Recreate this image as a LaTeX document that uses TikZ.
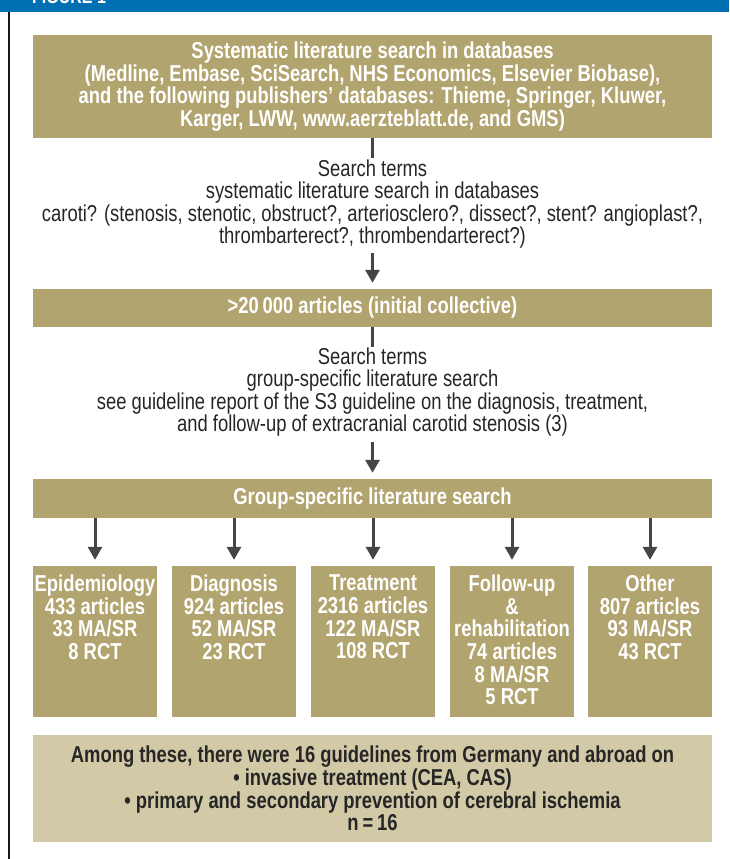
\documentclass[tikz,border=0pt]{standalone}
\usepackage{fontspec}
\setmainfont{Liberation Sans}[FakeStretch=0.80]
\usetikzlibrary{arrows.meta}
\definecolor{boxc}{HTML}{B2A46E}
\definecolor{lightc}{HTML}{D2C9A7}
\definecolor{bluec}{HTML}{0070B2}
\definecolor{arrc}{HTML}{454545}
\definecolor{txtc}{HTML}{262626}
\newcommand{\dfont}{\fontsize{23}{22.6}\selectfont}
\tikzset{
  mainbox/.style={fill=boxc, draw=none, minimum width=679pt, inner sep=0pt, text=white, font=\dfont\bfseries, align=center},
  catbox/.style={fill=boxc, draw=none, minimum width=124pt, minimum height=151pt, inner sep=0pt},
  cattext/.style={text=white, font=\dfont\bfseries, align=center, inner sep=0pt, anchor=north},
  plaintext/.style={text=txtc, font=\dfont, align=center, inner sep=0pt},
  flowarrow/.style={draw=arrc, line width=3pt, -{Triangle[length=13pt,width=14pt]}, shorten >=6pt},
  stubline/.style={draw=arrc, line width=3pt},
  notebox/.style={fill=lightc, draw=none, minimum width=679pt, minimum height=107pt, inner sep=0pt, text=txtc, font=\dfont\bfseries, align=center},
}
\begin{document}
\begin{tikzpicture}[x=1pt,y=-1pt]
\useasboundingbox (0,0) rectangle (729,859);
\clip (0,0) rectangle (729,859);
\fill[bluec] (0,0) rectangle (729,12);
\node[anchor=base west, text=white, font=\fontsize{20}{24}\selectfont\bfseries, inner sep=0pt] (title) at (32,4) {FIGURE 1};
\draw[line width=2.5pt, draw=black!90] (9,12) -- (9,859);

\node[mainbox, minimum height=103pt] (b1) at (372.5,86.5) {Systematic literature search in databases\\(Medline, Embase, SciSearch, NHS Economics, Elsevier Biobase),\\and the following publishers’ databases: Thieme, Springer, Kluwer,\\Karger, LWW, www.aerzteblatt.de, and GMS)};
\coordinate (s1) at (372.5,158);
\draw[stubline] (b1.south) -- (s1);
\node[plaintext] (t1) at (372.5,204) {Search terms\\systematic literature search in databases\\caroti? (stenosis, stenotic, obstruct?, arteriosclero?, dissect?, stent? angioplast?,\\thrombarterect?, thrombendarterect?)};
\coordinate (a1) at (372.5,253);
\node[mainbox, minimum height=38pt] (b2) at (372.5,308) {>20\,000 articles (initial collective)};
\draw[flowarrow] (a1) -- (b2.north);

\coordinate (s2) at (372.5,347);
\draw[stubline] (b2.south) -- (s2);
\node[plaintext] (t2) at (372.5,392) {Search terms\\group-specific literature search\\see guideline report of the S3 guideline on the diagnosis, treatment,\\and follow-up of extracranial carotid stenosis (3)};
\coordinate (a2) at (372.5,442);
\node[mainbox, minimum height=39pt] (b3) at (372.5,498.5) {Group-specific literature search};
\draw[flowarrow] (a2) -- (b3.north);

\node[catbox] (c1) at (95,641.5) {};
\node[catbox] (c2) at (234,641.5) {};
\node[catbox] (c3) at (373,641.5) {};
\node[catbox] (c4) at (512,641.5) {};
\node[catbox] (c5) at (650,641.5) {};
\foreach \c in {c1,c2,c3,c4,c5} {
  \draw[flowarrow] (b3.south -| \c) -- (\c.north);
}
\node[cattext] (c1t) at ([yshift=-9pt]c1.north) {Epidemiology\\433 articles\\33 MA/SR\\8 RCT};
\node[cattext] (c2t) at ([yshift=-9pt]c2.north) {Diagnosis\\924 articles\\52 MA/SR\\23 RCT};
\node[cattext] (c3t) at ([yshift=-9pt]c3.north) {Treatment\\2316 articles\\122 MA/SR\\108 RCT};
\node[cattext] (c4t) at ([yshift=-9pt]c4.north) {Follow-up\\\&\\rehabilitation\\74 articles\\8 MA/SR\\5 RCT};
\node[cattext] (c5t) at ([yshift=-9pt]c5.north) {Other\\807 articles\\93 MA/SR\\43 RCT};

\node[notebox] (n) at (372.5,788.5) {Among these, there were 16 guidelines from Germany and abroad on\\• invasive treatment (CEA, CAS)\\• primary and secondary prevention of cerebral ischemia\\n\,=\,16};
\end{tikzpicture}
\end{document}
